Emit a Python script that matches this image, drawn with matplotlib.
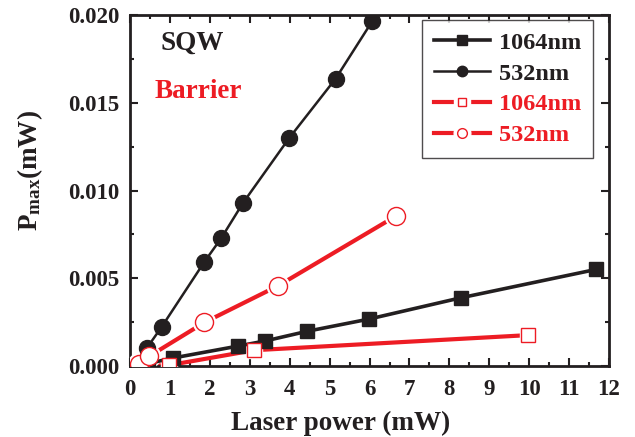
import matplotlib
matplotlib.use("Agg")
import matplotlib.pyplot as plt
from matplotlib.lines import Line2D
from matplotlib.legend_handler import HandlerTuple
from matplotlib.ticker import MultipleLocator, FormatStrFormatter

plt.rcParams["font.family"] = ["Liberation Serif", "DejaVu Serif"]
plt.rcParams["font.weight"] = "bold"
plt.rcParams["mathtext.fontset"] = "custom"
plt.rcParams["mathtext.rm"] = "Liberation Serif:bold"
plt.rcParams["mathtext.it"] = "Liberation Serif:bold"
plt.rcParams["mathtext.bf"] = "Liberation Serif:bold"

RED = "#ed1c24"
BLACK = "#231f20"

# SQW, 1064 nm
sqw_1064_x = [0.45, 1.08, 2.69, 3.39, 4.44, 5.98, 8.28, 11.68]
sqw_1064_y = [0.00015, 0.00047, 0.00114, 0.00144, 0.00199, 0.00268, 0.00389, 0.00551]
# SQW, 532 nm
sqw_532_x = [0.42, 0.79, 1.86, 2.28, 2.83, 3.98, 5.15, 6.07]
sqw_532_y = [0.00104, 0.00224, 0.00594, 0.00728, 0.00930, 0.01297, 0.01637, 0.01965]
# Barrier, 1064 nm
bar_1064_x = [0.30, 0.98, 3.11, 9.98]
bar_1064_y = [0.00002, 0.00006, 0.00091, 0.00177]
# Barrier, 532 nm
bar_532_x = [0.23, 0.48, 1.86, 3.71, 6.67]
bar_532_y = [0.00015, 0.00057, 0.00249, 0.00458, 0.00856]

fig = plt.figure(figsize=(6.35, 4.37), dpi=100)
ax = fig.add_axes([0.205, 0.162, 0.754, 0.804])

# red lines first, white halos round the hollow markers break the line
ax.plot(bar_1064_x, bar_1064_y, color=RED, lw=3, zorder=2)
ax.plot(bar_532_x, bar_532_y, color=RED, lw=3, zorder=2)
ax.plot(bar_1064_x, bar_1064_y, ls="none", marker="s", ms=12, mfc="white",
        mec="white", zorder=3)
ax.plot(bar_532_x, bar_532_y, ls="none", marker="o", ms=16, mfc="white",
        mec="white", zorder=3)

ax.plot(sqw_1064_x, sqw_1064_y, color=BLACK, lw=2.6, marker="s", ms=10,
        mfc=BLACK, mec=BLACK, zorder=4)
ax.plot(sqw_532_x, sqw_532_y, color=BLACK, lw=1.8, marker="o", ms=11.5,
        mfc=BLACK, mec=BLACK, zorder=4)

ax.plot(bar_1064_x, bar_1064_y, ls="none", marker="s", ms=9.5, mfc="white",
        mec=RED, mew=1.0, zorder=5)
ax.plot(bar_532_x, bar_532_y, ls="none", marker="o", ms=13, mfc="white",
        mec=RED, mew=1.0, zorder=5)

ax.set_xlim(0, 12)
ax.set_ylim(0, 0.020)
ax.xaxis.set_major_locator(MultipleLocator(1))
ax.xaxis.set_minor_locator(MultipleLocator(0.5))
ax.yaxis.set_major_locator(MultipleLocator(0.005))
ax.yaxis.set_minor_locator(MultipleLocator(0.0025))
ax.yaxis.set_major_formatter(FormatStrFormatter("%.3f"))
ax.tick_params(which="both", direction="in", top=True, right=True,
               width=1.5, labelsize=16.5, colors=BLACK)
ax.tick_params(which="major", length=6)
ax.tick_params(which="minor", length=3)
ax.tick_params(axis="x", which="major", pad=9)
ax.tick_params(axis="y", which="major", pad=8)
for s in ax.spines.values():
    s.set_linewidth(2)
    s.set_color(BLACK)

ax.set_xlabel("Laser power (mW)", fontsize=19.5, fontweight="bold", color=BLACK)
ax.xaxis.set_label_coords(0.44, -0.126)
ax.set_ylabel(r"P$_{\mathrm{max}}$(mW)", fontsize=19.5, fontweight="bold",
              color=BLACK)
ax.yaxis.set_label_coords(-0.178, 0.558)

ax.text(0.063, 0.92, "SQW", transform=ax.transAxes, fontsize=19.5,
        fontweight="bold", color=BLACK, va="center")
ax.text(0.05, 0.783, "Barrier", transform=ax.transAxes, fontsize=19.5,
        fontweight="bold", color=RED, va="center")

def red_handle(marker, ms):
    line = Line2D([], [], color=RED, lw=3)
    halo = Line2D([], [], ls="none", marker=marker, ms=ms + 5, mfc="white",
                  mec="white")
    mark = Line2D([], [], ls="none", marker=marker, ms=ms, mfc="white",
                  mec=RED, mew=1)
    return (line, halo, mark)

handles = [
    Line2D([], [], color=BLACK, lw=2.6, marker="s", ms=6.5, mfc=BLACK, mec=BLACK),
    Line2D([], [], color=BLACK, lw=1.8, marker="o", ms=7.5, mfc=BLACK, mec=BLACK),
    red_handle("s", 6),
    red_handle("o", 7),
]
labels = ["1064nm", "532nm", "1064nm", "532nm"]
leg = ax.legend(handles, labels, loc="upper right", fontsize=17.5,
                frameon=True, fancybox=False, edgecolor=BLACK,
                handlelength=2.3, handletextpad=0.35, borderpad=0.5,
                labelspacing=0.36, borderaxespad=0,
                bbox_to_anchor=(0.967, 0.986),
                handler_map={tuple: HandlerTuple(ndivide=1, pad=0)})
leg.get_frame().set_linewidth(1.0)
for t, c in zip(leg.get_texts(), [BLACK, BLACK, RED, RED]):
    t.set_color(c)

fig.savefig("out.png", dpi=100)
